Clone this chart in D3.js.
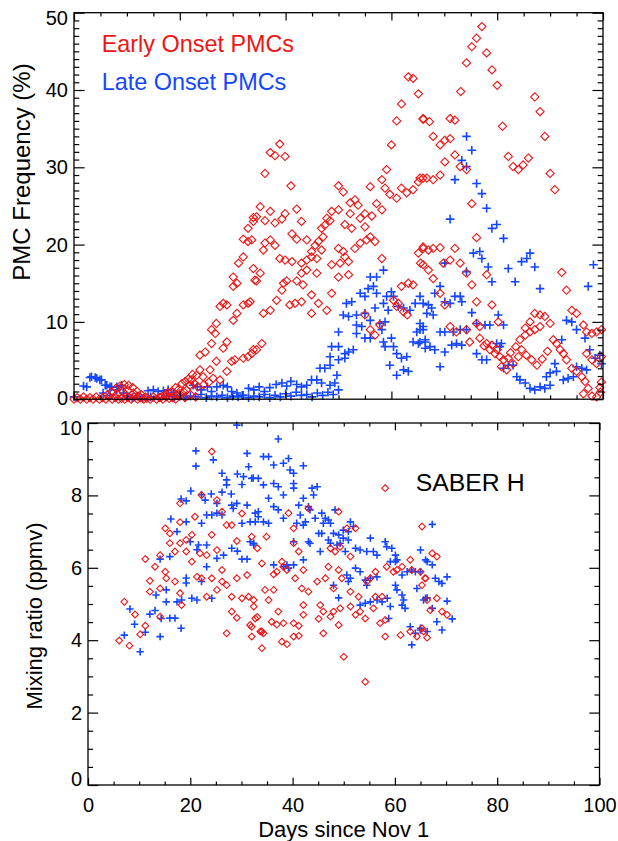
<!DOCTYPE html>
<html><head><meta charset="utf-8">
<script src="https://cdn.jsdelivr.net/npm/d3@7"></script>
<style>html,body{margin:0;padding:0;background:#fff;}svg{display:block;}</style>
</head><body>
<script>
// ---------------- DATA ----------------
const xTicks = [0, 20, 40, 60, 80, 100];
const topYTicks = [0, 10, 20, 30, 40, 50];
const botYTicks = [0, 2, 4, 6, 8, 10];
const legendLabels = ["Early Onset PMCs", "Late Onset PMCs"];
const panelLabel = "SABER H";
const xTitle = "Days since Nov 1";
const topYTitle = "PMC Frequency (%)";
const botYTitle = "Mixing ratio (ppmv)";

// Top panel: PMC frequency, early onset (red diamonds) [day, %]
const topEarly = [
[0,0],[0.6,0.2],[1.2,0],[1.8,0.3],[2.4,0],[3,0.2],[3.6,0],[4.2,0.3],[4.8,0],[5.4,0.2],[6,0],[6.6,0.3],[7.2,0],[7.8,0.2],[8.4,0],[9,0.1],[9.6,0],[10.2,0.2],[10.8,0],[11.4,0.3],[12,0],[12.6,0.2],[13.2,0],[13.8,0.1],[14.4,0],[15,0.3],[15.6,0],[16.2,0.2],[16.8,0],[17.4,0.3],[18,0.1],[18.6,0.2],[19.2,0],[20,0.4],[21,0.2],[22,0.6],[23,0.3],
[6.3,0.6],[7.1,1.0],[7.9,1.4],[8.7,1.7],[9.5,1.9],[10.3,1.8],[11.1,1.5],[11.9,1.0],[12.7,0.6],[13.5,0.3],[8.2,0.7],[9.2,1.0],[10.2,1.1],[11.2,0.8],[12.2,0.4],
[16.5,0.3],[17.2,0.6],[17.8,0.9],[18.5,1.0],[19.2,1.5],[19.8,1.3],[20.4,2.0],[21,2.3],[21.6,2.6],[22.4,3.2],
[35.2,24.9],[34.5,23.6],[33.9,23.0],[32.9,22.1],[32.9,20.4],[32.0,20.7],[32.0,18.4],[31.1,17.6],[30.1,15.8],[30.8,15.0],[30.1,14.6],[34.2,15.4],[33.9,16.9],[28.2,12.4],[27.6,12.0],[28.9,12.2],[32.9,12.4],[32.0,12.2],[30.8,11.1],[30.1,10.2],[26.9,9.8],[26.0,9.0],[26.7,8.5],[26.0,7.2],[28.9,7.4],[28.2,6.6],[24.8,6.1],[23.8,5.7],[33.9,6.4],[32.9,5.5],[32.0,5.3],[30.4,5.1],[29.8,4.9],[26.9,4.9],[25.7,3.8],[23.8,3.8],[23.2,3.1],[24.4,2.9],[22.2,2.5],[26.3,2.7],[27.6,2.5],[28.9,3.6],[21.3,1.2],[20.7,1.0],[20,0.7],[19.4,0.5],[21.9,1.8],[22.8,2.0],[23.4,1.6],[24.5,1.9],[25.5,2.2],
[63.2,41.7],[64.1,41.5],[65.1,39.5],[61.9,38.2],[61.0,36.0],[66.0,36.2],[60.0,32.9],[59.1,29.7],[58.2,28.4],[58.8,27.3],[59.7,26.5],[61.0,26.0],[61.9,27.3],[62.9,26.7],[64.1,27.1],[65.1,28.1],[66.0,28.6],[56.0,27.5],[50.0,27.6],[50.9,26.8],[41.0,27.6],[38.9,33.0],[37.1,31.9],[38.0,31.5],[39.9,31.4],[36.1,29.2],[37.1,24.3],[33.9,23.5],[36.1,23.1],[42.1,24.6],[39.9,24.0],[39.3,23.3],[38.0,22.8],[43.0,23.0],[50.0,24.5],[48.7,24.3],[47.8,23.4],[48.4,23.1],[52.2,25.4],[53.1,25.8],[53.7,25.1],[52.2,24.0],[54.1,23.4],[55.0,24.0],[56.3,23.7],[57.2,25.3],[58.2,24.5],[51.2,22.6],[46.8,22.1],[47.4,22.5],[52.5,22.1],[55.0,22.3],[33.6,20.6],[36.1,20.2],[37.1,20.6],[38.0,19.9],[41.2,21.4],[42.1,20.7],[44.0,20.6],[45.6,19.9],[46.2,20.4],[47.1,21.0],[46.8,19.3],[44.9,19.1],[50.0,19.5],[50.9,19.1],[53.1,19.5],[54.1,20.2],[55.3,20.6],[56.0,21.0],[56.9,20.4],[35.8,19.3],[38.9,18.2],[39.9,18.0],[41.2,17.8],[43.0,17.6],[44.0,18.0],[44.9,18.4],[45.9,18.2],[48.7,17.4],[50.3,17.6],[51.2,18.4],[51.9,17.8],[58.2,18.2],[44.0,16.7],[43.0,16.3],[45.9,16.3],[50.0,15.8],[51.9,16.1],[34.5,15.3],[35.2,16.3],[39.6,15.0],[40.2,15.3],[42.1,15.3],[43.3,14.8],[48.7,13.7],[44.9,13.5],[38.3,12.8],[39.3,14.1],[33.3,12.6],[40.8,12.2],[41.8,12.4],[43.0,12.6],[35.8,11.1],[37.1,11.5],[44.9,11.1],[46.2,12.4],[47.8,11.5],[34.5,6.4],[35.5,7.2],[33.6,5.9],[56.0,9.0],[55.0,10.9],[56.9,8.3],[57.8,9.6],[60.4,12.8],[61.3,12.4],[61.9,14.6],[63.2,15.0],[64.1,14.8],[61.0,12.0],[62.3,11.3],[63.0,10.9],[65.1,18.9],[66.0,19.5],[65.5,17.6],
[77.1,48.2],[76.1,46.7],[75.2,45.6],[78.0,44.8],[74.2,43.5],[79.0,42.6],[80.0,40.6],[73.1,39.8],[87.1,39.1],[88.1,37.2],[89.0,34.0],[81.0,35.3],[71.1,36.3],[72.0,36.1],[66.0,36.3],[67.2,35.9],[67.9,34.0],[69.2,32.9],[70.1,33.5],[71.1,33.7],[72.0,31.6],[73.0,30.1],[74.2,29.7],[70.1,30.7],[82.1,31.4],[83.0,30.1],[84.0,29.7],[84.9,30.3],[85.9,31.2],[90.0,29.2],[90.9,27.1],[65.4,28.6],[66.7,28.6],[67.9,28.4],[69.2,29.0],[75.2,25.3],[76.1,20.9],[66.0,19.7],[67.0,19.3],[67.9,19.5],[69.2,19.6],[72.0,19.5],[69.8,17.6],[71.1,18.0],[73.0,17.6],[66.0,17.4],[67.0,16.7],[67.9,15.6],[74.2,16.3],[78.0,16.1],[75.2,14.8],[92.2,16.4],[93.1,14.1],[69.2,13.7],[76.1,12.6],[79.0,12.2],[70.1,12.2],[71.1,9.4],[72.3,8.7],[74.2,9.0],[74.8,7.4],[76.7,7.9],[78.0,7.2],[80.2,10.0],[85.3,9.2],[86.2,10.0],[87.1,11.1],[88.1,10.9],[89.0,10.7],[90.0,9.8],[84.3,7.7],[85.3,8.3],[86.2,8.7],[87.1,9.0],[88.1,9.4],[84.0,5.5],[84.6,6.4],[83.0,4.6],[82.1,5.3],[81.2,5.1],[80.5,5.5],[79.6,5.9],[78.6,6.4],[80.8,4.2],[81.8,3.8],[90.6,7.7],[91.2,7.2],[91.9,6.4],[92.5,5.9],[93.1,5.1],[94.1,4.0],[95.0,3.6],[96.0,2.9],[96.6,2.3],[94.1,11.5],[95.0,11.1],[96.3,9.6],[96.9,8.7],[97.9,8.5],[98.8,8.7],[99.7,9.0],[96.9,5.9],[97.9,5.1],[98.8,4.6],[99.7,5.5],[96.3,0.7],[97.2,1.4],[97.9,0.4],[98.8,0.3],[99.5,0.9],[99.7,2.2],[99.4,1.5],[76.1,9.8],[76.7,9.4],
[82.5,6.0],[83.5,6.8],[85.5,5.7],[86.5,5.1],[87.5,4.4],[88.5,5.2],[89.5,6.2],[79.0,7.0],[80.0,6.4],[77.5,6.9]
];

// Top panel: PMC frequency, late onset (blue crosses) [day, %]
const topLate = [
[0,0.3],[1.8,1.7],[2.4,1.6],[3.0,2.8],[3.3,2.9],[4.0,2.8],[4.3,2.7],[4.9,2.5],[5.2,2.5],[5.9,1.8],[6.2,1.8],[6.8,1.6],[7.1,1.6],[8.1,1.6],[9.0,1.8],[9.3,0.8],[5.5,0.8],[6.8,0.5],[10.0,0.4],[10.3,0.3],[8.1,1.2],
[11,0.2],[12,0.4],[13,0.1],[14,1.1],[15,1.2],[15.9,1.0],[16.9,1.1],[17.8,1.2],[18.8,0.9],[14.5,0.3],[16,0.2],[17.5,0.4],[19,0.3],[20,0.5],[21,0.2],[22,0.4],[23,0.3],[24,0.6],[25,0.2],[26,0.4],[27,0.3],[28,0.5],[29,0.2],[30,0.4],[31,0.3],[32,0.5],[33,0.2],[34,0.4],[35,0.3],[36,0.6],[37,0.2],[38,0.5],[39,0.3],[40,0.7],[41,0.4],[42,0.9],[43,0.5],[44,0.6],[45,0.3],[46,0.8],[47,0.5],[48,0.9],[49,0.6],[50,1.2],
[22.5,1.8],[23.3,1.6],[24.1,1.2],[25.2,1.6],[26,1.0],[27,1.6],[28.2,1.8],[29,1.6],[29.8,1.0],[30.8,0.8],[31.8,0.5],[33,1.4],[34,1.2],[35,1.6],[36,1.0],[37,1.5],[38.2,1.9],[39.3,2.1],[40.2,1.7],[41,2.3],[42.1,1.9],[43,1.6],
[46.5,4.0],[47.4,4.0],[48.4,4.4],[44.9,2.5],[45.9,2.5],[44.0,1.8],[46.8,2.1],[48.4,1.8],[49.3,2.1],[49.7,3.1],[48.7,6.8],[50.0,6.8],[51.2,5.9],[51.9,6.1],[52.8,6.4],[48.4,5.5],[50.0,5.1],[51.2,5.3],[50.0,8.7],[53.4,8.5],[55.0,7.9],[56.0,7.9],[58.2,9.0],[58.5,7.4],[60.0,7.9],[65.4,9.8],[64.8,8.7],[66.0,9.0],[53.4,9.6],[54.4,9.4],[56.0,10.2],[57.8,9.8],[58.8,10.0],[50.9,10.9],[51.9,10.7],[53.4,10.9],[55.0,11.1],[56.9,11.8],[58.5,12.4],[59.4,11.5],[61.3,12.0],[62.3,11.8],[63.5,11.5],[64.5,12.4],[65.4,13.3],[51.5,12.4],[52.5,12.6],[54.1,13.7],[55.0,13.3],[57.2,13.7],[59.1,13.3],[60.0,13.9],[60.4,13.3],[55.6,14.3],[56.6,14.6],[56.0,15.8],[57.2,15.8],[58.5,16.7],[58.8,6.8],[60.4,6.8],[64.1,7.4],[65.1,7.2],[66.4,7.7],[66.4,6.6],[59.7,4.4],[61.0,5.9],[61.9,5.3],[62.9,5.5],[61.0,3.1],[62.3,3.8],[63.2,3.6],
[74.2,34.0],[75.2,32.2],[73.3,30.9],[74.2,30.1],[72.0,28.4],[76.1,27.9],[77.1,26.6],[78.0,24.7],[71.1,23.3],[79.0,22.1],[79.9,22.6],[81.2,20.8],[75.5,18.9],[76.7,19.1],[77.1,18.2],[84.6,17.8],[85.6,18.2],[86.2,18.9],[87.1,17.1],[82.1,16.9],[78.3,17.1],[83.4,15.2],[79.0,15.2],[70.1,17.6],[74.2,16.5],[88.1,14.3],[97.2,14.6],[98.2,17.4],[69.2,14.6],[68.2,13.7],[66.0,12.4],[67.0,12.2],[67.6,11.8],[66.7,11.1],[67.9,10.9],[70.1,12.6],[71.1,12.4],[72.0,13.3],[73.0,13.3],[73.3,12.6],[75.2,11.2],[76.1,9.8],[77.7,9.6],[78.6,9.6],[80.2,10.9],[81.2,9.6],[65.4,9.0],[66.0,9.4],[69.2,8.7],[70.1,8.7],[71.7,8.7],[73.0,9.0],[74.2,9.0],[65.4,7.4],[66.4,7.4],[67.3,6.8],[68.2,6.4],[70.1,6.1],[71.4,7.0],[72.3,7.2],[73.3,7.0],[69.2,4.2],[76.1,5.9],[77.1,5.1],[78.0,5.1],[79.9,7.2],[80.5,6.8],[80.8,7.2],[81.2,4.0],[82.1,4.4],[83.0,4.4],[83.7,2.9],[84.3,2.5],[85.3,2.1],[86.2,1.4],[87.1,1.2],[88.1,1.6],[89.0,1.4],[90.0,1.8],[89.3,2.9],[90.0,3.4],[91.2,3.6],[90.9,4.6],[92.5,2.5],[93.4,2.7],[94.4,2.9],[92.2,7.7],[95.0,9.0],[93.1,10.2],[94.1,10.0],[96.6,7.9],[97.5,6.4],[98.5,5.3],[99.4,5.7],[99.7,4.6],[95.0,4.2],[96.0,4.0],[96.9,3.8]
];

// Bottom panel: SABER H mixing ratio, early onset (red diamonds) [day, ppmv]
const botEarly = [
[6.1,3.99],[7.1,5.06],[8.1,3.85],[9.2,4.71],[10.2,4.16],[11.2,4.40],[11.2,6.24],[12.1,5.64],[12.1,5.34],[13.1,6.03],[14.1,6.35],[14.1,4.65],[14.1,5.43],[15.1,5.89],[15.3,5.71],[15.1,7.09],[16.0,6.68],[16.0,6.95],[17.0,6.45],[17.0,5.62],[18.0,7.78],[18.0,7.26],[18.0,6.68],[18.3,4.97],[18.0,5.3],[19.2,6.77],[19.2,6.45],[20.3,6.17],[20.3,6.91],[20.9,7.41],[21.3,5.75],[21.9,6.40],[22.2,8.01],[22.2,5.71],[23.2,5.20],[23.2,6.35],[24.2,9.21],[24.2,6.91],[24.2,5.71],[25.2,7.87],[25.2,6.49],[25.2,5.39],[26.2,7.55],[26.2,5.94],[26.2,5.62],[27.1,7.18],[27.1,5.52],[27.1,4.19],[28.1,7.18],[29.1,6.74],[28.1,5.20],[28.1,4.79],[29.1,4.62],[29.1,5.71],[30.1,7.50],[30.1,5.16],[31.1,5.80],[31.4,5.20],[32.4,5.11],[32.0,6.86],[32.0,4.37],[32.0,4.10],[32.4,4.93],[33.1,4.64],[33.7,4.24],
[58.1,8.20],[49.0,7.55],[39.2,7.51],[43.1,7.64],[40.2,7.09],[50.6,7.09],[52.3,7.09],[33.1,6.54],[34.9,6.86],[40.2,6.68],[41.2,6.45],[47.4,6.54],[48.3,6.45],[49.3,6.58],[51.3,6.31],[34.0,6.12],[37.9,6.17],[38.2,6.03],[36.3,5.82],[36.9,5.89],[38.9,5.94],[42.1,5.94],[47.0,6.03],[49.0,5.94],[56.2,5.89],[58.4,6.03],[59.7,5.89],[60.4,5.94],[61.4,6.03],[63.0,6.22],[63.3,5.94],[65.0,5.89],[65.9,5.71],[65.3,5.52],[40.5,5.71],[41.8,5.43],[43.1,5.34],[44.8,5.62],[46.4,5.71],[48.0,5.43],[49.6,5.71],[51.3,5.34],[52.9,5.20],[54.5,5.62],[55.2,5.71],[56.2,5.20],[57.5,5.20],[34.6,5.39],[35.3,5.11],[36.3,5.39],[32.7,4.60],[37.2,4.79],[35.9,4.51],[36.9,4.43],[38.2,4.47],[40.2,4.47],[41.2,4.40],[42.1,4.97],[42.1,4.70],[45.4,4.97],[46.0,4.79],[47.4,4.65],[48.0,4.79],[49.3,4.88],[51.3,4.93],[52.3,4.70],[53.2,4.79],[54.2,4.60],[55.8,4.88],[57.1,4.47],[58.1,4.56],[31.7,4.42],[34.0,4.24],[34.3,4.19],[34.0,3.78],[37.9,3.96],[38.9,3.89],[40.2,4.10],[41.2,4.12],[45.1,4.59],[46.0,4.19],[49.0,4.42],[58.1,4.10],[61.1,4.14],[63.0,4.24],[64.3,4.10],[65.3,4.33],[50.0,3.54],[54.2,2.85],
[65.3,7.14],[67.3,6.40],[68.2,6.31],[66.0,5.71],[66.3,5.11],[68.2,5.16],[66.9,4.83],[69.2,4.79],[70.2,4.70],[66.3,4.07],[65.6,4.24]
];

// Bottom panel: SABER H mixing ratio, late onset (blue crosses) [day, ppmv]
const botLate = [
[7.1,4.14],[8.2,4.86],[9.1,4.44],[10.2,3.68],[11.2,4.22],[12.1,4.72],[13.1,4.82],[13.3,5.25],[14.1,6.24],[14.3,4.60],[14.1,4.10],[15.3,5.39],[15.3,5.06],[16.0,6.31],[16.2,7.35],[16.0,4.61],[17.0,4.61],[17.4,7.0],[17.4,5.06],[18.2,7.9],[18.2,4.33],[18.3,5.11],[19.2,7.85],[19.2,7.27],[19.2,5.72],[19.2,5.58],[20.1,8.12],[20.0,6.72],[20.3,5.16],[21.1,9.23],[21.1,8.81],[21.3,5.11],[21.6,6.63],[21.3,6.5],[22.2,8.02],[22.2,7.23],[22.2,5.62],[22.9,7.87],[23.2,7.46],[23.2,6.63],[23.2,6.03],[24.1,8.04],[24.2,5.16],[24.2,7.46],[24.5,8.98],[25.2,7.78],[25.2,7.51],[25.2,6.26],[26.2,8.61],[26.2,8.09],[26.2,7.46],[26.5,6.35],[27.1,8.43],[27.1,8.29],[28.0,8.04],[28.1,7.73],[28.1,6.54],[28.4,7.64],[29.1,9.94],[29.2,8.59],[29.1,7.78],[29.2,6.46],[30.1,7.23],[30.1,6.24],[31.1,6.24],[30.4,8.52],[31.4,8.79],[31.1,9.16],[30.1,8.3],[31.1,7.73],[32.3,8.48],[32.7,7.27],[32.4,6.63],[33.3,7.55],
[37.2,9.56],[34.3,9.07],[35.3,9.07],[36.3,8.84],[38.2,8.89],[39.2,9.02],[42.1,8.82],[39.5,8.70],[40.2,8.61],[32.0,8.47],[33.3,8.47],[34.3,8.29],[36.3,8.33],[37.2,8.24],[38.2,8.01],[40.2,8.33],[40.2,8.20],[43.8,8.20],[44.8,8.24],[44.1,8.01],[35.3,7.92],[36.3,7.69],[37.2,7.60],[41.2,7.73],[42.1,7.92],[43.1,7.69],[41.5,7.46],[43.4,7.60],[42.5,7.27],[40.8,7.23],[42.1,7.18],[32.7,7.51],[33.3,7.41],[31.7,7.27],[34.3,7.27],[35.3,7.23],[38.2,7.37],[44.4,7.37],[45.7,7.51],[46.4,7.37],[47.0,7.32],[47.4,7.23],[46.0,7.23],[48.3,7.60],[51.3,7.27],[51.9,7.14],[49.9,7.04],[50.9,7.00],[45.1,6.95],[45.7,6.95],[48.0,6.95],[49.0,6.91],[49.9,6.82],[50.9,6.77],[47.0,6.77],[55.2,6.82],[31.7,6.72],[32.4,6.68],[40.2,6.72],[43.1,6.72],[43.4,6.68],[45.4,6.45],[47.4,6.68],[48.7,6.63],[49.3,6.68],[50.3,6.45],[52.3,6.54],[53.2,6.49],[54.5,6.45],[55.8,6.45],[56.5,6.35],[58.1,6.72],[58.4,6.58],[59.4,6.54],[60.1,6.35],[60.4,6.22],[42.1,6.22],[40.2,6.08],[36.3,6.08],[38.2,6.03],[39.2,5.99],[38.9,6.08],[52.3,5.99],[53.2,5.89],[50.6,5.80],[51.3,5.71],[50.9,5.62],[54.2,5.66],[54.5,5.52],[55.2,5.71],[56.5,5.75],[48.0,5.52],[49.0,5.17],[53.2,4.97],[54.2,5.02],[55.2,5.06],[56.5,5.11],[57.5,5.06],[58.5,5.16],[59.1,4.93],[58.8,4.60],[60.1,5.52],[60.4,5.39],[61.4,5.25],[61.7,5.11],[61.4,4.97],[62.0,4.88],[61.4,5.80],[62.4,5.89],[63.3,5.94],[64.0,5.89],[64.3,5.43],[65.6,5.11],[66.3,5.17],[63.0,4.37],[64.0,4.19],[63.3,3.87],[65.0,4.28],[66.3,4.24],[59.1,6.17],[60.1,6.17],[65.0,6.49],[66.3,6.17],
[67.3,7.20],[66.0,6.22],[67.3,6.08],[65.0,5.89],[67.9,5.71],[68.6,5.62],[69.2,5.57],[70.2,5.75],[66.0,5.16],[67.3,4.88],[70.2,5.08],[68.2,4.51],[69.2,4.28],[71.2,4.59],[65.0,4.33]
];

// ---------------- DRAWING ----------------
const W = 618, H = 841;
const FONT = "'Liberation Sans', Arial, Helvetica, sans-serif";
const RED = "#f01414", BLUE = "#1446ff";

const svg = d3.select("body").append("svg").attr("width", W).attr("height", H);
svg.append("rect").attr("width", W).attr("height", H).attr("fill", "#fff");

const topP = {l: 74, r: 603, t: 12.7, b: 399.2};
const botP = {l: 88, r: 599.5, t: 423, b: 785};

const xT = d3.scaleLinear().domain([0, 100]).range([topP.l, topP.r]);
const yT = d3.scaleLinear().domain([0, 50]).range([topP.b, topP.t]);
const xB = d3.scaleLinear().domain([0, 100]).range([botP.l, botP.r]);
const yB = d3.scaleLinear().domain([0, 10]).range([botP.b, botP.t]);

function styleAxis(a) {
  a.select(".domain").remove();
  a.selectAll("line").attr("stroke", "#000").attr("stroke-width", 1.2);
  a.selectAll("text").attr("font-family", FONT).attr("font-size", 20).attr("fill", "#000");
  return a;
}
function addAxis(gen, tx, ty) {
  return styleAxis(svg.append("g").attr("transform", `translate(${tx},${ty})`).call(gen));
}

function drawFrame(P, x, y, yMajor, yMinor, xLen, yLen, showXLabels) {
  const xMinor = d3.range(0, 101, 5).filter(v => v % 20 !== 0);
  addAxis(d3.axisBottom(x).tickValues(xTicks).tickSize(xLen).tickFormat(""), 0, P.t);
  addAxis(d3.axisBottom(x).tickValues(xMinor).tickSize(xLen / 2).tickFormat(""), 0, P.t);
  if (showXLabels) {
    addAxis(d3.axisBottom(x).tickValues(xTicks).tickSizeInner(-xLen).tickSizeOuter(0).tickPadding(13).tickFormat(d3.format("d")), 0, P.b);
  } else {
    addAxis(d3.axisTop(x).tickValues(xTicks).tickSize(xLen).tickFormat(""), 0, P.b);
  }
  addAxis(d3.axisTop(x).tickValues(xMinor).tickSize(xLen / 2).tickFormat(""), 0, P.b);
  const la = addAxis(d3.axisLeft(y).tickValues(yMajor).tickSizeInner(-yLen).tickSizeOuter(0).tickPadding(6).tickFormat(d3.format("d")), P.l, 0);
  addAxis(d3.axisLeft(y).tickValues(yMinor).tickSize(-yLen / 2).tickFormat(""), P.l, 0);
  addAxis(d3.axisLeft(y).tickValues(yMajor).tickSize(yLen).tickFormat(""), P.r, 0);
  addAxis(d3.axisLeft(y).tickValues(yMinor).tickSize(yLen / 2).tickFormat(""), P.r, 0);
  svg.append("rect").attr("x", P.l).attr("y", P.t).attr("width", P.r - P.l).attr("height", P.b - P.t)
    .attr("fill", "none").attr("stroke", "#000").attr("stroke-width", 1.3);
  return la;
}

const diamond = r => `M0,${-r}L${r},0L0,${r}L${-r},0Z`;
const cross = r => `M${-r},0H${r}M0,${-r}V${r}`;

function drawPoints(data, x, y, kind, r) {
  svg.append("g").selectAll("path").data(data).join("path")
    .attr("transform", d => `translate(${x(d[0])},${y(d[1])})`)
    .attr("d", kind === "d" ? diamond(r) : cross(r))
    .attr("fill", "none")
    .attr("stroke", kind === "d" ? RED : BLUE)
    .attr("stroke-width", kind === "d" ? 1.1 : 1.6);
}

// ----- top panel -----
drawPoints(topLate, xT, yT, "c", 4.3);
drawPoints(topEarly, xT, yT, "d", 4.1);
const topLeft = drawFrame(topP, xT, yT, topYTicks, d3.range(0, 51, 1).filter(v => v % 10 !== 0), 7.7, 10.6, false);
topLeft.selectAll("text").attr("dy", d => d === 50 ? "0.6em" : (d === 0 ? "0.25em" : "0.32em"));

svg.append("text").attr("x", 101.7).attr("y", 51.7).attr("font-family", FONT).attr("font-size", 23.4)
  .attr("fill", RED).text(legendLabels[0]);
svg.append("text").attr("x", 101.7).attr("y", 90).attr("font-family", FONT).attr("font-size", 23.4)
  .attr("fill", BLUE).text(legendLabels[1]);
svg.append("text").attr("transform", "translate(30,172) rotate(-90)").attr("text-anchor", "middle")
  .attr("font-family", FONT).attr("font-size", 24).attr("fill", "#000").text(topYTitle);

// ----- bottom panel -----
drawPoints(botLate, xB, yB, "c", 3.7);
drawPoints(botEarly, xB, yB, "d", 3.4);
const botLeft = drawFrame(botP, xB, yB, botYTicks, d3.range(0.5, 10, 0.5).filter(v => v % 2 !== 0), 7.2, 10.2, true);
botLeft.selectAll("text").attr("dy", d => d === 10 ? "0.57em" : (d === 0 ? "0.0em" : "0.32em"));

svg.append("text").attr("x", 415.7).attr("y", 491).attr("font-family", FONT).attr("font-size", 24.8)
  .attr("fill", "#000").text(panelLabel);
svg.append("text").attr("transform", "translate(42,616) rotate(-90)").attr("text-anchor", "middle")
  .attr("font-family", FONT).attr("font-size", 22).attr("fill", "#000").text(botYTitle);
svg.append("text").attr("x", (botP.l + botP.r) / 2).attr("y", 837).attr("text-anchor", "middle")
  .attr("font-family", FONT).attr("font-size", 22).attr("fill", "#000").text(xTitle);
</script>
</body></html>
